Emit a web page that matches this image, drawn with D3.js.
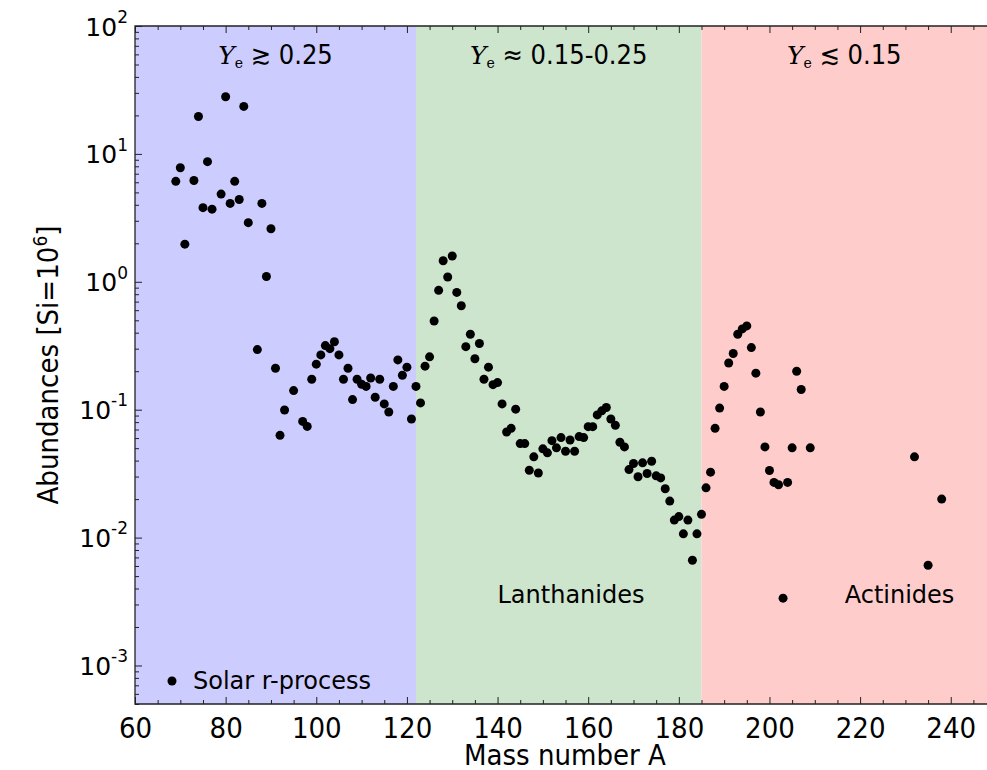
<!DOCTYPE html>
<html>
<head>
<meta charset="utf-8">
<script src="https://cdn.jsdelivr.net/npm/d3@7"></script>
<style>
  body { margin: 0; background: #fff; }
  text { font-family: "DejaVu Sans", sans-serif; fill: #000; }
  .cond { font-family: "DejaVu Sans Condensed", "DejaVu Sans", sans-serif; font-stretch: condensed; }
</style>
</head>
<body>
<script>
/*
DATA
*/
const massA = [69, 70, 71, 73, 74, 75, 76, 77, 79, 80, 81, 82, 83, 84, 85, 87, 88, 89, 90,
  91, 92, 93, 95, 97, 98, 99, 100, 101, 102, 103, 104, 105, 106, 107, 108, 109, 110,
  111, 112, 113, 114, 115, 116, 117, 118, 119, 120, 121, 122, 123, 124, 125, 126, 127,
  128, 129, 130, 131, 132, 133, 134, 135, 136, 137, 138, 139, 140, 141, 142, 143, 144,
  145, 146, 147, 148, 149, 150, 151, 152, 153, 154, 155, 156, 157, 158, 159, 160, 161,
  162, 163, 164, 165, 166, 167, 168, 169, 170, 171, 172, 173, 174, 175, 176, 177, 178,
  179, 180, 181, 182, 183, 184, 185, 186, 187, 188, 189, 190, 191, 192, 193, 194, 195,
  196, 197, 198, 199, 200, 201, 202, 203, 204, 205, 206, 207, 209, 232, 235, 238]

const abundance = [6.1, 7.8, 1.97, 6.2, 19.6, 3.8, 8.7, 3.7, 4.85, 28.0, 4.1, 6.1, 4.4, 23.5, 2.9, 0.295, 4.1, 1.1, 2.6,
  0.211, 0.063, 0.0995, 0.141, 0.081, 0.074, 0.173, 0.227, 0.268, 0.317, 0.30, 0.34, 0.268, 0.173, 0.211, 0.12, 0.173, 0.158,
  0.152, 0.177, 0.125, 0.173, 0.111, 0.096, 0.152, 0.245, 0.186, 0.215, 0.0845, 0.152, 0.113, 0.219, 0.259, 0.494, 0.857,
  1.46, 1.09, 1.59, 0.826, 0.65, 0.311, 0.389, 0.25, 0.329, 0.173, 0.215, 0.157, 0.163, 0.111, 0.067, 0.0715, 0.101,
  0.0543, 0.0543, 0.0336, 0.0428, 0.032, 0.0494, 0.046, 0.0573, 0.0503, 0.0605, 0.0473, 0.058, 0.0473, 0.0616, 0.0605, 0.0737, 0.0737,
  0.091, 0.098, 0.104, 0.0846, 0.0755, 0.0556, 0.0512, 0.034, 0.038, 0.0299, 0.0384, 0.0317, 0.0395, 0.0304, 0.0293, 0.0241, 0.0193,
  0.0137, 0.0146, 0.0107, 0.0137, 0.00665, 0.0107, 0.0152, 0.0245, 0.0325, 0.0715, 0.103, 0.152, 0.232, 0.275, 0.389, 0.428, 0.452,
  0.306, 0.193, 0.096, 0.0512, 0.0335, 0.027, 0.0259, 0.00336, 0.027, 0.0503, 0.2, 0.144, 0.0503, 0.0428, 0.00608, 0.02]

const regionStart = [60, 122, 185]
const regionEnd = [122, 185, 248]
const regionRel = ["\u2273 0.25", "\u2248 0.15-0.25", "\u2272 0.15"]
const regionColor = ["#ccccff", "#cce5cc", "#ffcccc"]

const xTicks = [60, 80, 100, 120, 140, 160, 180, 200, 220, 240]
const yExponents = [-3, -2, -1, 0, 1, 2]

const notes = ["Lanthanides", "Actinides"]
const noteA = [156.2, 228.7]
const noteY = [0.0036, 0.0036]

/*
SET UP
*/
const w = 987
const h = 770
const m = ({top: 26, right: 0, bottom: 66, left: 135})

const svg = d3.select("body")
  .append("svg")
  .attr("width", w)
  .attr("height", h);

const x = d3.scaleLinear()
  .domain([60, 248])
  .range([m.left, w]);

const y = d3.scaleLog()
  .domain([5e-4, 100])
  .range([h - m.bottom, m.top]);

const y0 = h - m.bottom

/*
COLOURED Ye REGIONS
*/
svg.selectAll(".region")
  .data(regionStart)
  .join("rect")
  .attr("x", (d) => x(d))
  .attr("y", m.top)
  .attr("width", (d, i) => x(regionEnd[i]) - x(d))
  .attr("height", y0 - m.top)
  .attr("fill", (d, i) => regionColor[i]);

const lab = svg.selectAll(".ylab")
  .data(regionStart)
  .join("text")
  .attr("class", "ylab")
  .attr("x", (d, i) => x((d + regionEnd[i]) / 2))
  .attr("y", 64)
  .attr("text-anchor", "middle");

lab.append("tspan")
  .attr("font-family", "'DejaVu Serif', serif")
  .attr("font-style", "italic")
  .attr("font-size", 25)
  .text("Y");
lab.append("tspan")
  .attr("font-family", "'DejaVu Serif', serif")
  .attr("font-size", 14)
  .attr("dy", 4)
  .text("e");
lab.append("tspan")
  .attr("class", "cond")
  .attr("font-size", 27)
  .attr("dy", -4)
  .text((d, i) => " " + regionRel[i]);

/*
AXES
*/
const minorX = d3.range(60, 249, 5).filter((d) => d % 20 !== 0)
const minorY = []
for (let e = -4; e <= 1; e++) {
  for (let k = 2; k <= 9; k++) {
    const v = k * Math.pow(10, e)
    if (v >= 5e-4 && v <= 100) minorY.push(v)
  }
}

function styleAxis(g) {
  g.select(".domain").remove();
  g.selectAll(".tick line").attr("stroke", "#222").attr("stroke-width", 1);
}

svg.append("g")
  .attr("transform", `translate(0,${y0})`)
  .call(d3.axisBottom(x).tickValues(xTicks).tickSize(-7).tickPadding(8))
  .call(styleAxis)
  .call((g) => g.selectAll(".tick text")
    .attr("class", "cond")
    .attr("font-size", 29)
    .attr("dy", "0.9em"));

svg.append("g")
  .attr("transform", `translate(0,${y0})`)
  .call(d3.axisBottom(x).tickValues(minorX).tickSize(-4).tickFormat(""))
  .call(styleAxis);

svg.append("g")
  .attr("transform", `translate(0,${m.top})`)
  .call(d3.axisTop(x).tickValues(xTicks).tickSize(-7).tickFormat(""))
  .call(styleAxis);

svg.append("g")
  .attr("transform", `translate(0,${m.top})`)
  .call(d3.axisTop(x).tickValues(minorX).tickSize(-4).tickFormat(""))
  .call(styleAxis);

const yMajor = yExponents.map((e) => Math.pow(10, e))

svg.append("g")
  .attr("transform", `translate(${m.left},0)`)
  .call(d3.axisLeft(y).tickValues(yMajor).tickSize(-7).tickPadding(7).tickFormat(""))
  .call(styleAxis)
  .call((g) => g.selectAll(".tick").each(function(d, i) {
    const t = d3.select(this).select("text")
      .attr("font-size", 25)
      .attr("dy", "0.36em")
      .attr("text-anchor", "end");
    t.append("tspan").text("10");
    t.append("tspan")
      .attr("font-size", 17)
      .attr("dy", "-0.75em")
      .text(String(yExponents[i]));
  }));

svg.append("g")
  .attr("transform", `translate(${m.left},0)`)
  .call(d3.axisLeft(y).tickValues(minorY).tickSize(-4).tickFormat(""))
  .call(styleAxis);

// spines
svg.append("path")
  .attr("d", `M${w + 1},${m.top}H${m.left}V${y0}H${w + 1}`)
  .attr("fill", "none")
  .attr("stroke", "#222")
  .attr("stroke-width", 1.3);

/*
POINTS
*/
svg.selectAll(".point")
  .data(massA)
  .join("circle")
  .attr("class", "point")
  .attr("cx", (d) => x(d))
  .attr("cy", (d, i) => y(abundance[i]))
  .attr("r", 4.5)
  .attr("fill", "#000");

/*
TEXT
*/
svg.selectAll(".note")
  .data(notes)
  .join("text")
  .attr("x", (d, i) => x(noteA[i]))
  .attr("y", (d, i) => y(noteY[i]))
  .attr("dy", "0.35em")
  .attr("text-anchor", "middle")
  .attr("font-size", 24)
  .text((d) => d);

// legend
svg.append("circle")
  .attr("cx", 172)
  .attr("cy", 681)
  .attr("r", 4.5)
  .attr("fill", "#000");
svg.append("text")
  .attr("x", 193)
  .attr("y", 681)
  .attr("dy", "0.35em")
  .attr("font-size", 24)
  .text("Solar r-process");

svg.append("text")
  .attr("class", "cond")
  .attr("x", (m.left + w) / 2 + 4)
  .attr("y", 765)
  .attr("text-anchor", "middle")
  .attr("font-size", 29)
  .text("Mass number A");

const yl = svg.append("text")
  .attr("class", "cond")
  .attr("transform", `translate(58,${(m.top + y0) / 2}) rotate(-90)`)
  .attr("text-anchor", "middle")
  .attr("font-size", 29);
yl.append("tspan").text("Abundances [Si=10");
yl.append("tspan").attr("font-size", 19).attr("dy", "-0.6em").text("6");
yl.append("tspan").attr("dy", "0.4em").text("]");
</script>
</body>
</html>
